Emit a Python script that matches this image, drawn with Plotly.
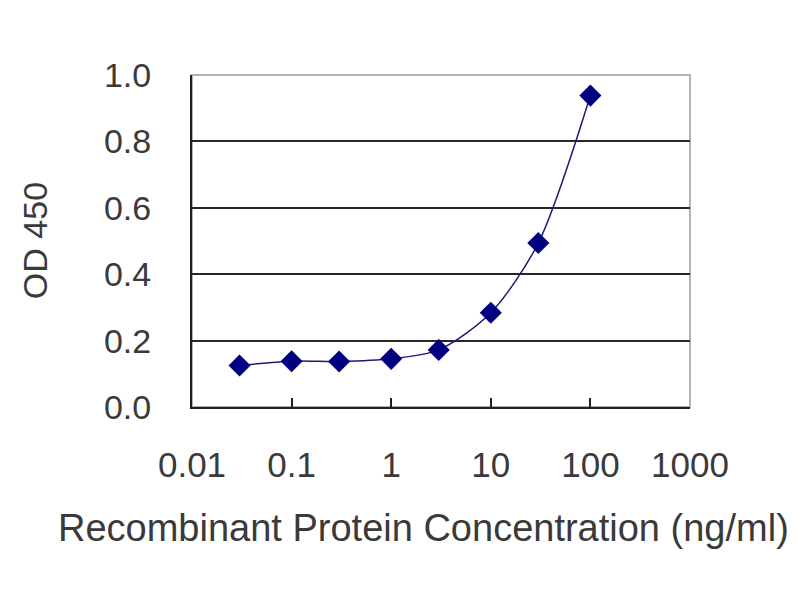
#=====================================================================
# ELISA standard curve
#=====================================================================
import plotly.graph_objects as go

conc = [0.03, 0.1, 0.3, 1, 3, 10, 30, 100]
od450 = [0.125, 0.138, 0.137, 0.145, 0.172, 0.284, 0.494, 0.938]

x_ticks = [0.01, 0.1, 1, 10, 100, 1000]
x_ticktext = ["0.01", "0.1", "1", "10", "100", "1000"]
y_ticks = [0.0, 0.2, 0.4, 0.6, 0.8, 1.0]
y_ticktext = ["0.0", "0.2", "0.4", "0.6", "0.8", "1.0"]

font_family = "Liberation Sans, Arial, sans-serif"
text_color = "#3a3a3a"

fig = go.Figure()

fig.add_trace(go.Scatter(
          x=conc,
          y=od450,
          mode="lines+markers",
          line=dict(color="#1c1c78", width=1.5, shape="spline", smoothing=0.8),
          marker=dict(symbol="diamond", size=17, color="#000080"),
          showlegend=False,
          ))

# gray frame of the plot area
fig.add_shape(type="rect", xref="paper", yref="paper",
              x0=0, y0=0, x1=1, y1=1,
              line=dict(color="#9a9a9a", width=1.5), layer="below")

fig.update_xaxes(
          type="log",
          range=[-2, 3],
          tickvals=x_ticks,
          ticktext=x_ticktext,
          ticks="inside",
          ticklen=9,
          tickwidth=1.5,
          tickcolor="#202020",
          showgrid=False,
          showline=True,
          linecolor="#202020",
          linewidth=2,
          zeroline=False,
          ticklabelstandoff=26,
          tickfont=dict(size=35, color=text_color, family=font_family),
          )

fig.update_yaxes(
          range=[0, 1],
          tickvals=y_ticks,
          ticktext=y_ticktext,
          ticks="",
          showgrid=True,
          gridcolor="#262626",
          gridwidth=2,
          showline=True,
          linecolor="#202020",
          linewidth=2,
          zeroline=False,
          ticklabelstandoff=32,
          tickfont=dict(size=34, color=text_color, family=font_family),
          )

fig.add_annotation(text="Recombinant Protein Concentration (ng/ml)",
                   xref="paper", yref="paper", x=0.464, y=-0.364,
                   xanchor="center", yanchor="middle",
                   showarrow=False,
                   font=dict(size=38, color=text_color, family=font_family))
fig.add_annotation(text="OD 450",
                   xref="paper", yref="paper", x=-0.315, y=0.5,
                   xanchor="center", yanchor="middle",
                   textangle=-90, showarrow=False,
                   font=dict(size=34, color=text_color, family=font_family))

fig.update_layout(
          width=800,
          height=600,
          margin=dict(l=184, r=118, t=67, b=201, autoexpand=False),
          plot_bgcolor="white",
          paper_bgcolor="white",
          )

fig.write_html("out.html")
